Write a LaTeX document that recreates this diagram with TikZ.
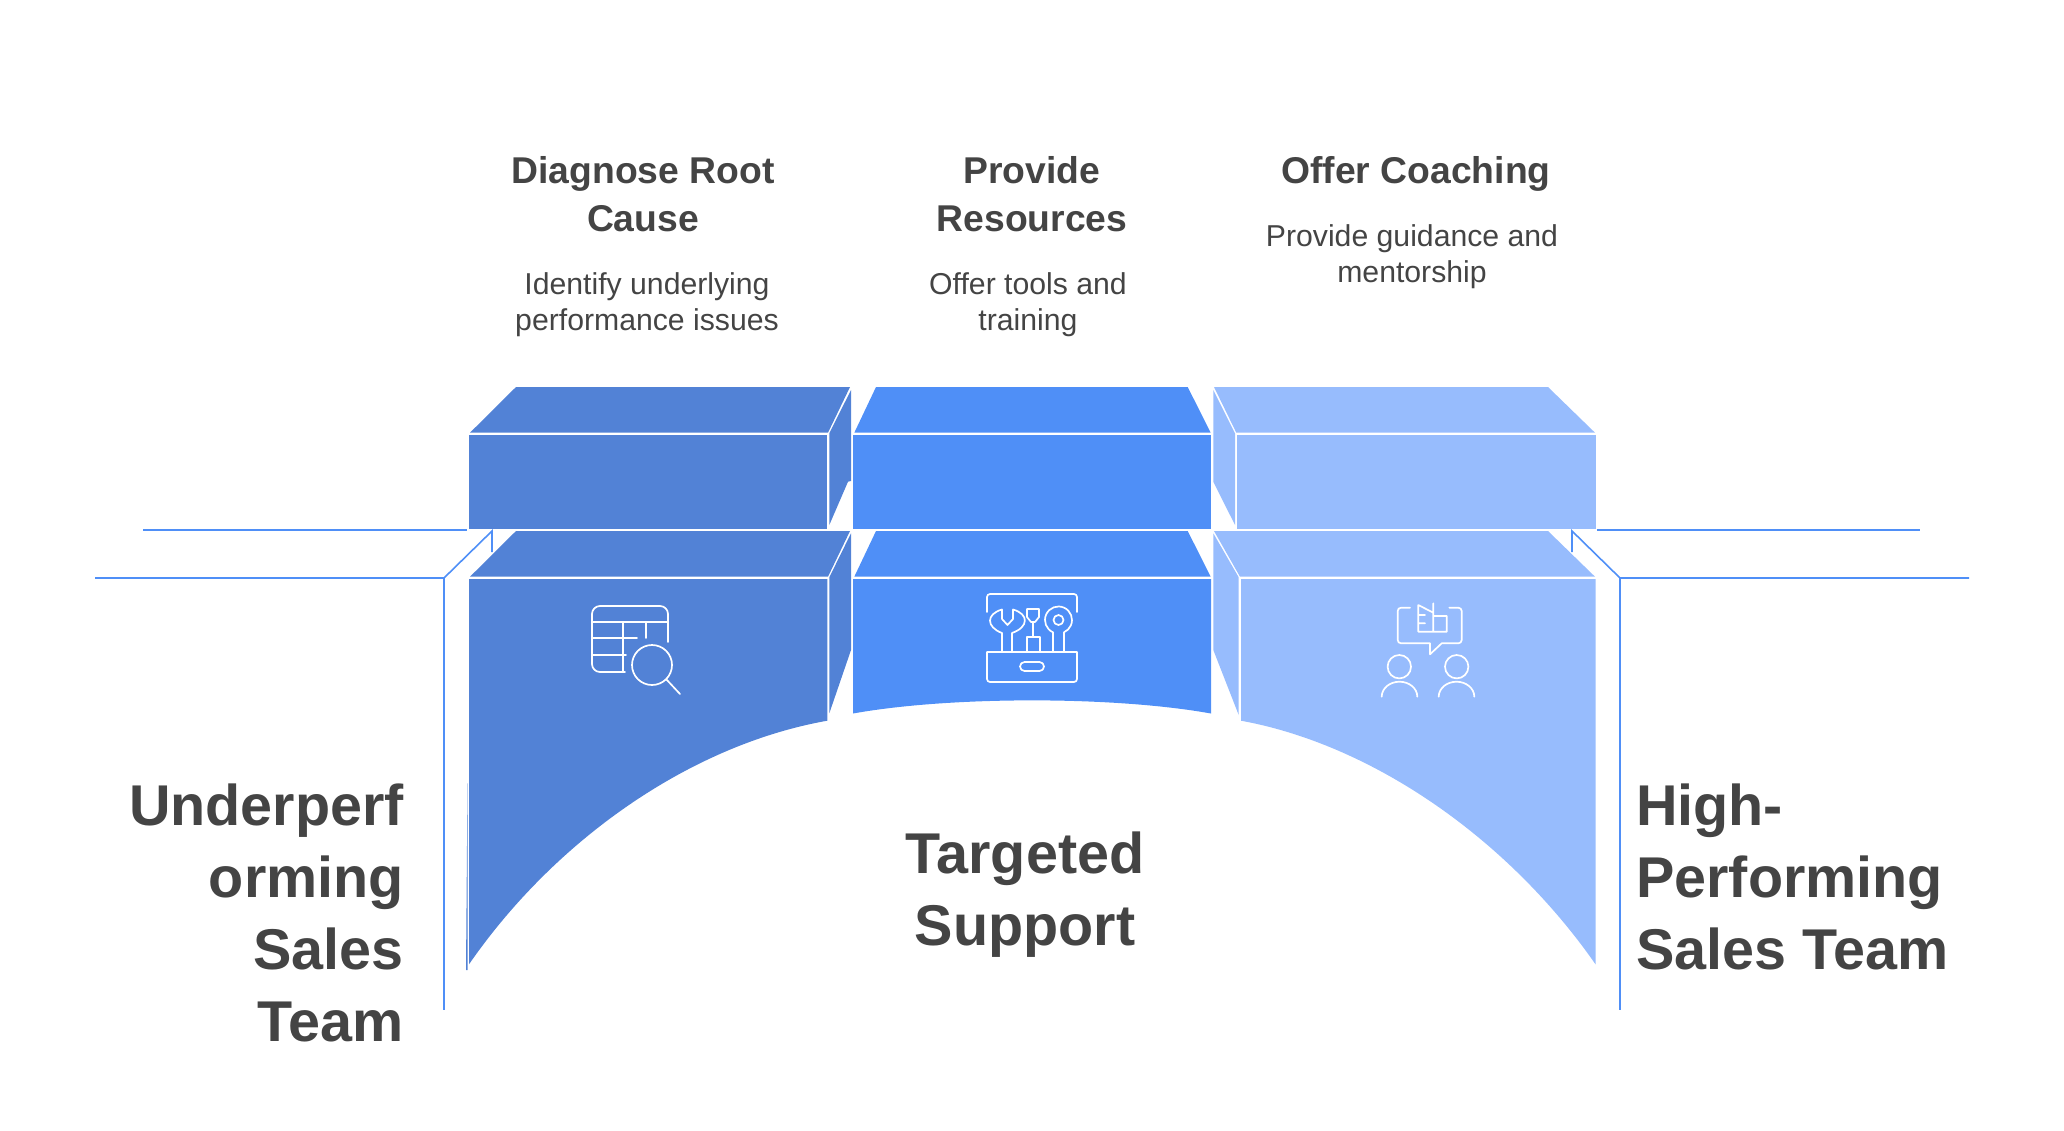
\documentclass[tikz,border=0pt]{standalone}
\usepackage{fontspec}
\setmainfont{Liberation Sans}
\definecolor{blueA}{HTML}{5282D6}
\definecolor{blueB}{HTML}{4F8FF7}
\definecolor{blueC}{HTML}{97BCFD}
\definecolor{inkT}{HTML}{444444}
\tikzset{
  titletext/.style={text=inkT,align=center,font=\bfseries\fontsize{37.3}{48}\selectfont,inner sep=0pt},
  bodytext/.style={text=inkT,align=center,font=\fontsize{30.2}{36}\selectfont,inner sep=0pt},
  bigtext/.style={text=inkT,font=\bfseries\fontsize{57.5}{72}\selectfont,inner sep=0pt},
  guide/.style={draw=blueB,line width=1.6pt},
  iconline/.style={draw=white,line width=1.7pt,line cap=round,line join=round},
}
\begin{document}
\begin{tikzpicture}[x=1pt,y=-1pt]
\useasboundingbox (0,0) rectangle (2064,1130);
% guide lines
\draw[guide] (143,530) -- (467,530);
\draw[guide] (95,578) -- (444,578) -- (492,531) -- (492,552);
\draw[guide] (444,578) -- (444,1010);
\draw[guide] (1597,530) -- (1920,530);
\draw[guide] (1969,578) -- (1620,578) -- (1572,531) -- (1572,552);
\draw[guide] (1620,578) -- (1620,1010);
% left block
\fill[blueA] (470,432.7) -- (516,387) -- (850,387) -- (828,432.7) -- cycle;
\fill[blueA] (469,434.7) rectangle (827.3,529);
\fill[blueA] (829.3,433.3) -- (851,390) -- (851,481) -- (848,481.7) -- (829.3,525) -- cycle;
\fill[blueA] (470,576.7) -- (516,531) -- (850,531) -- (828,576.7) -- cycle;
\fill[blueA] (469,579) -- (827.3,579) -- (827.3,720.7) .. controls (690,745) and (555,840) .. (469,964.3) -- cycle;
\fill[blueA] (829.3,577.3) -- (851,533.3) -- (851,650) -- (829.3,713.3) -- cycle;
\fill[blueA] (467.5,783) -- (466,970) -- (467.5,970) -- cycle;
% middle block
\fill[blueB] (854.3,432.7) -- (876,387) -- (1187.7,387) -- (1210.7,432.7) -- cycle;
\fill[blueB] (853,434.7) rectangle (1211,529);
\fill[blueB] (854.3,576.7) -- (876,531) -- (1187.7,531) -- (1210.7,576.7) -- cycle;
\fill[blueB] (853,579) -- (1211,579) -- (1211,713.5) .. controls (1114,696) and (950,696) .. (853,713.5) -- cycle;
% right block
\fill[blueC] (1214,387) -- (1548,387) -- (1595,432.7) -- (1236.3,432.7) -- cycle;
\fill[blueC] (1237,434.7) rectangle (1595.5,529);
\fill[blueC] (1213.3,390) -- (1235,433.3) -- (1235,525) -- (1213.3,481.7) -- cycle;
\fill[blueC] (1214,531) -- (1548,531) -- (1595,576.7) -- (1240,576.7) -- cycle;
\fill[blueC] (1241,579) -- (1595.5,579) -- (1595.5,964.3) .. controls (1509,840) and (1374,745) .. (1241,720.7) -- cycle;
\fill[blueC] (1213.3,533.3) -- (1238.7,577.3) -- (1238.7,715) -- (1213.3,650) -- cycle;
% icon 1
\draw[iconline] (668,642) -- (668,614) arc[start angle=0,end angle=-90,radius=8] -- (600,606) arc[start angle=-90,end angle=-180,radius=8] -- (592,664) arc[start angle=180,end angle=90,radius=8] -- (625,672);
\draw[iconline] (592,622) -- (668,622) (623,622) -- (623,672) (592,638) -- (637,638) (592,655) -- (626,655) (646,622) -- (646,638);
\draw[iconline] (652,665) circle[radius=20] (666,679) -- (680,694);
% icon 2
\draw[iconline] (987,612) -- (987,597) arc[start angle=180,end angle=270,radius=3] -- (1074,594) arc[start angle=270,end angle=360,radius=3] -- (1077,612);
\draw[iconline] (987,652) -- (1077,652) -- (1077,679) arc[start angle=0,end angle=90,radius=3] -- (990,682) arc[start angle=90,end angle=180,radius=3] -- cycle;
\draw[iconline] (1024.5,662) -- (1039.5,662) arc[start angle=-90,end angle=90,radius=4.5] -- (1024.5,671) arc[start angle=90,end angle=270,radius=4.5] -- cycle;
\draw[iconline] (1002,652) -- (1002,633) .. controls (986,627) and (986,614) .. (1002,609.5) -- (1002,619) -- (1007.5,625) -- (1013,619) -- (1013,609.5) .. controls (1029,614) and (1029,627) .. (1012,633) -- (1012,652);
\draw[iconline] (1027,609) -- (1039,609) -- (1039,617) -- (1035,622) -- (1031,622) -- (1027,617) -- cycle (1033,622) -- (1033,637);
\draw[iconline] (1027,652) -- (1027,637) -- (1040,637) -- (1040,652);
\draw[iconline] (1053,652) -- (1053,632.3) arc[start angle=114,end angle=426,radius=13.5] -- (1064,652);
\draw[iconline] (1058.5,620) circle[radius=5];
% icon 3
\draw[iconline] (1410,607.7) -- (1401,607.7) arc[start angle=-90,end angle=-180,radius=3.3] -- (1397.7,640) arc[start angle=180,end angle=90,radius=3.3] -- (1430,643.3) -- (1430,654.3) -- (1441.7,643.3) -- (1458.4,643.3) arc[start angle=90,end angle=0,radius=3.3] -- (1461.7,611) arc[start angle=0,end angle=-90,radius=3.3] -- (1449.3,607.7);
\draw[iconline] (1433.3,612.7) -- (1418.3,605) -- (1418.3,631.7) -- (1446.7,631.7) -- (1446.7,616) -- (1433.3,616) (1433.3,603.3) -- (1433.3,631.7) (1418.3,615) -- (1425,615) (1418.3,623.3) -- (1425,623.3);
\draw[iconline] (1399.3,666.7) circle[radius=11.7] (1381.7,696.7) arc[start angle=180,end angle=360,x radius=17.8,y radius=15];
\draw[iconline] (1456.7,666.7) circle[radius=11.7] (1438.7,696.7) arc[start angle=180,end angle=360,x radius=17.8,y radius=15];
% texts
\node[titletext] (t1) at (643,194.5) {Diagnose Root\\Cause};
\node[bodytext] (b1) at (647,304.5) {Identify underlying\\performance issues};
\node[titletext] (t2) at (1032,194.5) {Provide\\Resources};
\node[bodytext] (b2) at (1028,304.5) {Offer tools and\\training};
\node[titletext] (t3) at (1416,174) {Offer Coaching};
\node[bodytext] (b3) at (1412,256.5) {Provide guidance and\\mentorship};
\node[bigtext,align=right,anchor=east] (l) at (404,913) {Underperf\\orming\\Sales\\Team};
\node[bigtext,align=center] (m) at (1025,895) {Targeted\\Support};
\node[bigtext,align=left,anchor=west] (r) at (1636,877) {High-\\Performing\\Sales Team};
\end{tikzpicture}
\end{document}
